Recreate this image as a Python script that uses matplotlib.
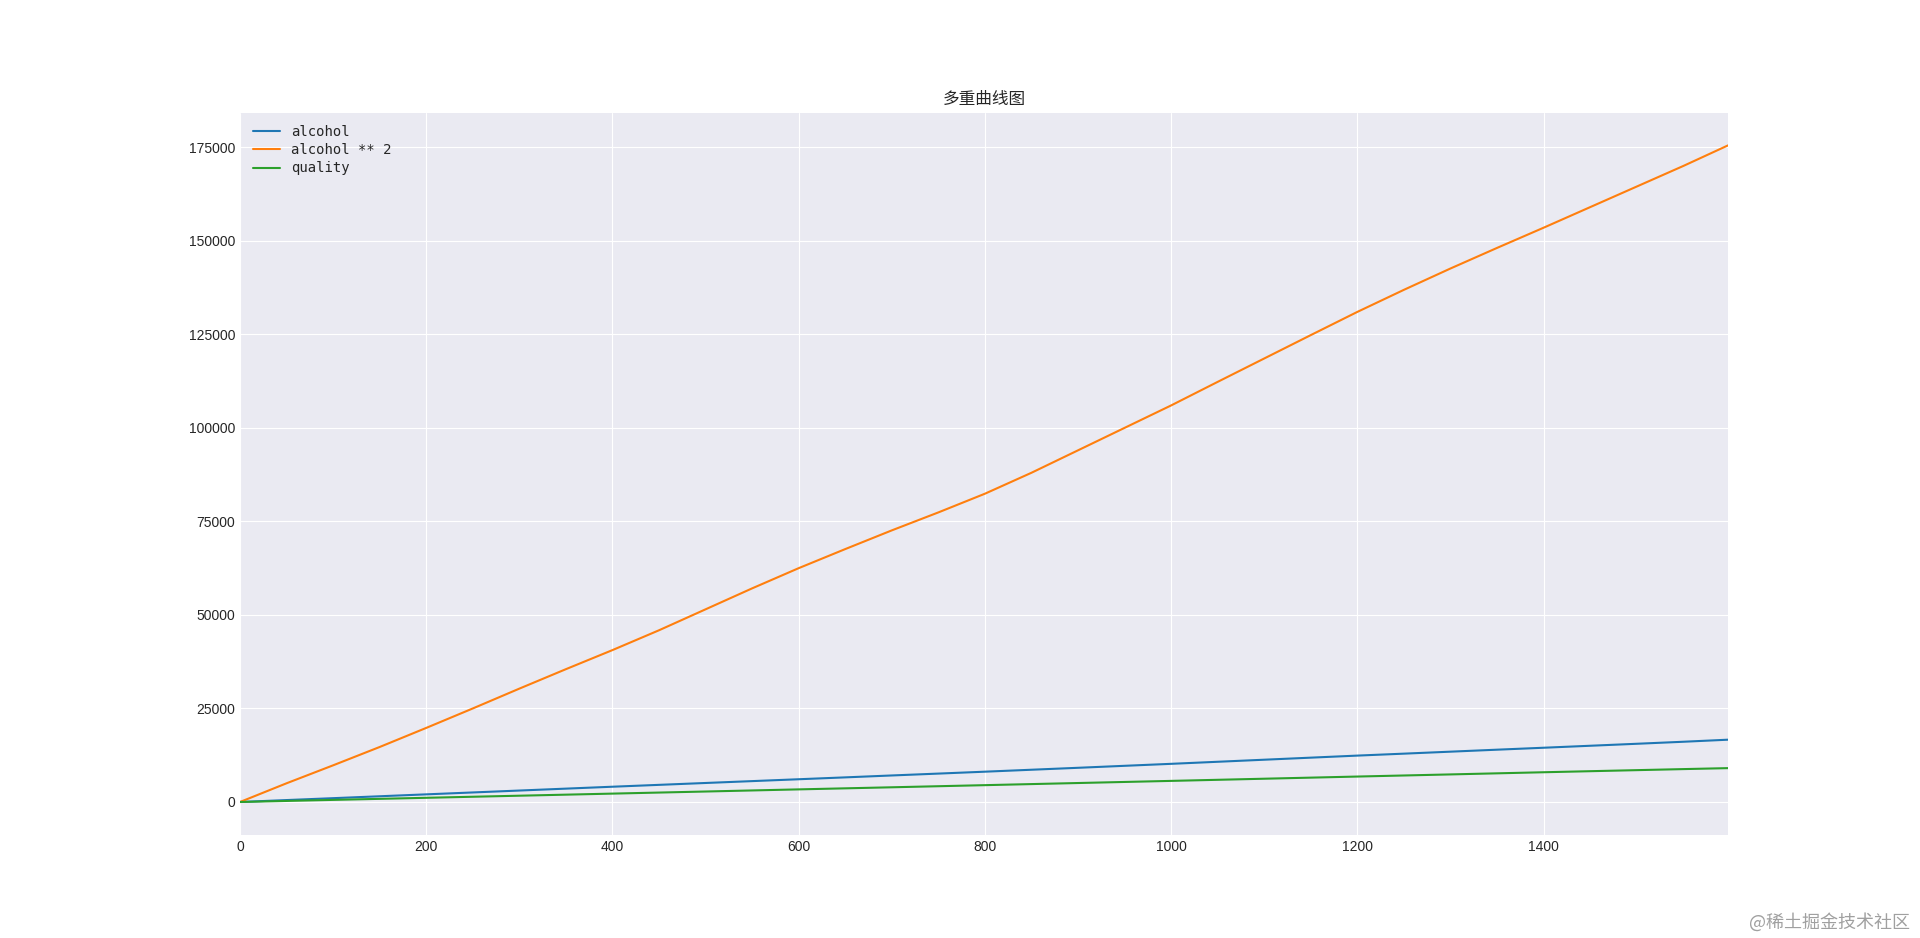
import matplotlib
matplotlib.use('Agg')
import matplotlib.pyplot as plt

# cumulative sums
rows = [0, 50, 100, 150, 200, 250, 300, 350, 400, 450, 500, 550, 600, 650,
        700, 750, 800, 850, 900, 950, 1000, 1050, 1100, 1150, 1200, 1250,
        1300, 1350, 1400, 1450, 1500, 1550, 1598]
alcohol = [0, 515, 1020, 1530, 2040, 2550, 3060, 3570, 4080, 4580, 5080,
           5580, 6080, 6580, 7090, 7590, 8100, 8620, 9140, 9670, 10200,
           10750, 11300, 11850, 12400, 12920, 13450, 13980, 14500, 15030,
           15560, 16100, 16650]
alcohol_sq = [0, 5000, 9800, 14700, 19800, 25000, 30300, 35500, 40600,
              45900, 51500, 57100, 62500, 67600, 72600, 77400, 82400, 88000,
              94000, 100000, 106000, 112300, 118550, 124800, 131000, 136900,
              142600, 148100, 153500, 159000, 164500, 170000, 175500]
quality = [0, 280, 560, 840, 1120, 1400, 1680, 1960, 2240, 2520, 2800,
           3085, 3370, 3650, 3930, 4215, 4500, 4785, 5070, 5355, 5640,
           5930, 6220, 6510, 6800, 7085, 7370, 7660, 7950, 8230, 8510,
           8790, 9050]

plt.style.use('seaborn-v0_8-darkgrid')
plt.rcParams['font.family'] = ['Liberation Sans', 'Noto Sans CJK SC', 'DejaVu Sans']
plt.rcParams['axes.unicode_minus'] = False

fig, ax = plt.subplots(figsize=(19.2, 9.38), dpi=100)
ax.plot(rows, alcohol, color='#1f77b4', lw=1.5, label='alcohol')
ax.plot(rows, alcohol_sq, color='#ff7f0e', lw=1.5, label='alcohol ** 2')
ax.plot(rows, quality, color='#2ca02c', lw=1.5, label='quality')
ax.set_xlim(0, 1598)
ax.tick_params(labelsize=10, colors='#262626')

ax.set_title('多重曲线图', fontsize=12, family=['Noto Sans CJK SC', 'DejaVu Sans'])
ax.legend(loc='upper left', frameon=False, labelspacing=0.3,
          prop={'family': ['DejaVu Sans Mono', 'Noto Sans CJK SC'], 'size': 10})

fig.text(0.995, 0.017, '@稀土掘金技术社区', ha='right', va='center',
         fontsize=13, color='#a0a0a0', family=['Noto Sans CJK SC', 'DejaVu Sans'])

fig.savefig('out.png', dpi=100)
